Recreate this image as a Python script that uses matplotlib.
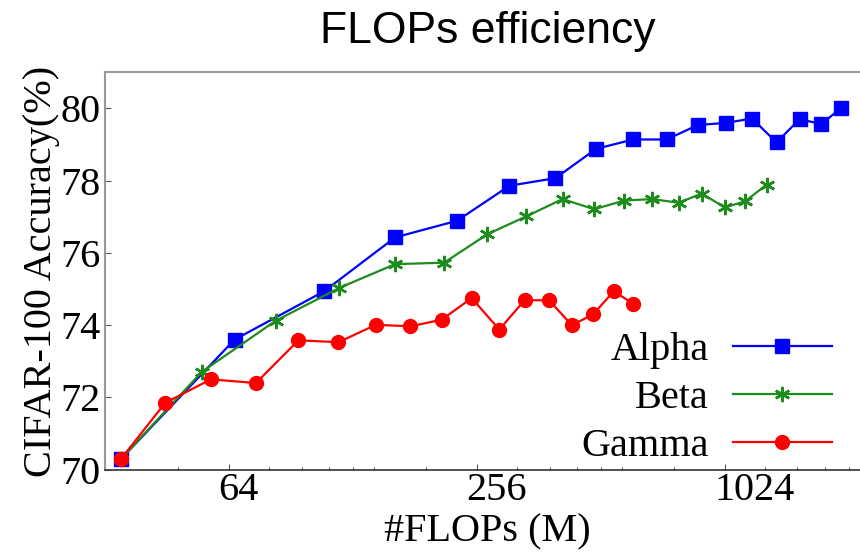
import numpy as np
import matplotlib
matplotlib.use('Agg')
import matplotlib.pyplot as plt
from matplotlib.ticker import FixedLocator, NullFormatter
from matplotlib.transforms import ScaledTranslation

# datos
alpha_x = [35, 66, 109, 162, 229, 307, 397, 498, 613, 739, 880, 1030, 1191, 1366, 1554, 1753, 1958]
alpha_y = [70.30, 73.60, 74.94, 76.43, 76.89, 77.86, 78.07, 78.88, 79.14, 79.14, 79.54, 79.60, 79.72, 79.06, 79.70, 79.57, 80.00]

beta_x = [35, 55, 83, 118.5, 162, 213, 271.5, 337, 413, 493, 583, 682, 790, 899, 1024, 1147, 1292]
beta_y = [70.30, 72.71, 74.12, 75.03, 75.69, 75.73, 76.52, 77.01, 77.49, 77.21, 77.45, 77.49, 77.39, 77.64, 77.26, 77.43, 77.89]

gamma_x = [35, 44.8, 57.8, 74.4, 94.3, 118, 145.5, 176.5, 210, 248.5, 290, 334, 383, 435, 490, 550, 612]
gamma_y = [70.30, 71.85, 72.50, 72.40, 73.58, 73.53, 74.01, 73.97, 74.15, 74.75, 73.88, 74.69, 74.69, 74.00, 74.30, 74.94, 74.60]

major_ticks = [64, 256, 1024]
major_labels = ['64', '256', '1024']
minor_ticks = [48, 80, 96, 112, 128, 144, 192, 320, 384, 448, 512, 576, 768, 1280, 1536, 1792, 2048]
y_ticks = [70, 72, 74, 76, 78, 80]

serif = ['Liberation Serif', 'DejaVu Serif']

fig = plt.figure(figsize=(8.6, 5.56), dpi=100)
ax = fig.add_axes([0.1221, 0.1552, 0.8892, 0.7148])

ax.plot(alpha_x, alpha_y, color='#0000ff', lw=1.6, marker='s', ms=10, label='Alpha')
ax.plot(beta_x, beta_y, color='#1c8c1c', lw=1.6, marker=(6, 2, 0), ms=11, mew=1.8, label='Beta')
ax.plot(gamma_x, gamma_y, color='#ff0000', lw=1.6, marker='o', ms=10, label='Gamma')

ax.set_xscale('log', base=2)
ax.set_xlim(32, 2300)
ax.set_ylim(70, 81)
ax.xaxis.set_major_locator(FixedLocator(major_ticks))
ax.set_xticklabels(major_labels)
ax.xaxis.set_minor_locator(FixedLocator(minor_ticks))
ax.xaxis.set_minor_formatter(NullFormatter())
ax.set_yticks(y_ticks)

ax.tick_params(axis='both', which='major', direction='in', length=4, width=0.8,
               labelsize=29, colors='#555555', labelcolor='black')
ax.tick_params(axis='x', which='minor', direction='in', length=2.5, width=0.8, colors='#555555')
ax.tick_params(axis='x', pad=2)
ax.tick_params(axis='y', pad=3)
for lab in ax.get_xticklabels() + ax.get_yticklabels():
    lab.set_family(serif)

# las etiquetas del eje x estan alineadas a la izquierda, un poco antes de la marca
shift = ScaledTranslation(-0.105, 0, fig.dpi_scale_trans)
for tick in ax.xaxis.get_major_ticks():
    tick.label1.set_horizontalalignment('left')
    tick.label1.set_transform(tick.label1.get_transform() + shift)

ax.spines['right'].set_visible(False)
ax.spines['top'].set_color('#999999')
ax.spines['left'].set_color('#999999')
ax.spines['bottom'].set_color('#333333')
ax.spines['top'].set_linewidth(1.5)
ax.spines['left'].set_linewidth(1.5)
ax.spines['bottom'].set_linewidth(1.2)

ax.set_xlabel('#FLOPs (M)', fontsize=29, family=serif, labelpad=3)
ax.set_ylabel('CIFAR-100 Accuracy(%)', fontsize=29, family=serif, labelpad=0)
ax.set_title('FLOPs efficiency', fontsize=32, family=['Liberation Sans', 'DejaVu Sans'], pad=21)

ax.legend(loc='lower right', bbox_to_anchor=(856 / 860, 67 / 556),
          bbox_transform=fig.transFigure, frameon=False, markerfirst=False,
          prop={'family': serif, 'size': 29}, handlelength=2.45, handletextpad=0.6,
          labelspacing=0.27, borderpad=0.1)

fig.savefig('out.png', dpi=100)
